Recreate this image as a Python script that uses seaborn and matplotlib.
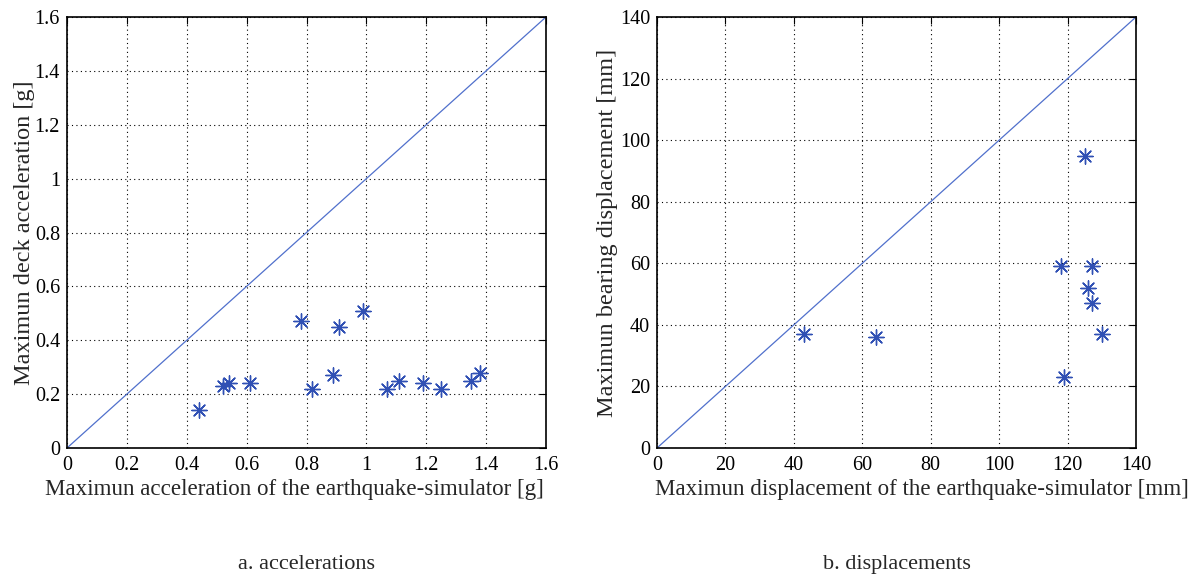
import numpy as np
import pandas as pd
import seaborn as sns
import matplotlib.pyplot as plt

# a. accelerations [g]
acc_table = [0.44, 0.52, 0.54, 0.61, 0.78, 0.82, 0.89, 0.91, 0.99, 1.07, 1.11, 1.19, 1.25, 1.35, 1.38]
acc_deck = [0.14, 0.23, 0.24, 0.24, 0.47, 0.22, 0.27, 0.45, 0.51, 0.22, 0.25, 0.24, 0.22, 0.25, 0.28]
acc_diag = [0, 1.6]

# b. displacements [mm]
disp_table = [43, 64, 118, 119, 125, 126, 127, 127, 130]
disp_bearing = [37, 36, 59, 23, 95, 52, 59, 47, 37]
disp_diag = [0, 140]

acc_ticks = [0, 0.2, 0.4, 0.6, 0.8, 1, 1.2, 1.4, 1.6]
acc_ticklabels = ['0', '0.2', '0.4', '0.6', '0.8', '1', '1.2', '1.4', '1.6']
disp_ticks = [0, 20, 40, 60, 80, 100, 120, 140]

sns.set_style('white')
plt.rcParams['font.family'] = ['Liberation Serif', 'DejaVu Serif']
plt.rcParams['font.size'] = 14

blue = '#3050b4'
f = plt.figure(figsize=(11.99, 5.75), dpi=100)
ax1 = f.add_axes([67 / 1199, 1 - 448 / 575, 479 / 1199, 431 / 575])
ax2 = f.add_axes([657 / 1199, 1 - 448 / 575, 479 / 1199, 431 / 575])

star = (8, 2, 0)


def panel(ax, x, y, diag, xlabel, ylabel, ticks, labels, caption, ypad, xlab_x):
  sns.lineplot(x=diag, y=diag, color='#5070cc', linewidth=0.9, ax=ax)
  sns.scatterplot(x=x, y=y, marker=star, s=120, color=blue,
                  linewidth=1.0, edgecolor=blue, ax=ax)
  ax.set_xlim(diag[0], diag[1])
  ax.set_ylim(diag[0], diag[1])
  ax.set_xticks(ticks)
  ax.set_yticks(ticks)
  ax.set_xticklabels(labels)
  ax.set_yticklabels(labels)
  ax.grid(True, linestyle=(0, (1, 3)), color='black', linewidth=0.8)
  ax.tick_params(direction='in', top=True, right=True, length=5,
                 labelsize=14.5, colors='black')
  ax.tick_params(axis='x', pad=6)
  ax.tick_params(axis='y', pad=5)
  for s in ax.spines.values():
    s.set_color('black')
    s.set_linewidth(1.2)
  ax.set_xlabel(xlabel, fontsize=16.6, labelpad=3)
  ax.xaxis.label.set_x(xlab_x)
  ax.set_ylabel(ylabel, fontsize=17.5, labelpad=ypad)
  ax.text(0.5, -0.27, caption, transform=ax.transAxes, ha='center',
          va='center', fontsize=16)


panel(ax1, acc_table, acc_deck, acc_diag,
      'Maximun acceleration of the earthquake-simulator [g]',
      'Maximun deck acceleration [g]',
      acc_ticks, acc_ticklabels, 'a. accelerations', 0, 0.475)
panel(ax2, disp_table, disp_bearing, disp_diag,
      'Maximun displacement of the earthquake-simulator [mm]',
      'Maximun bearing displacement [mm]',
      disp_ticks, [str(t) for t in disp_ticks], 'b. displacements', 1, 0.554)

plt.savefig('out.png', dpi=100)
